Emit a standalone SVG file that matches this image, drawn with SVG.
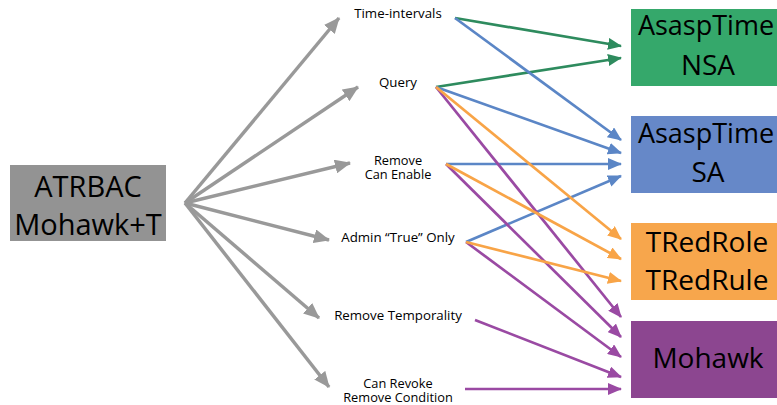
<svg xmlns="http://www.w3.org/2000/svg" width="777" height="405" viewBox="0 0 777 405">
<style>
.big{font-family:"Open Sans","Noto Sans",sans-serif;font-size:28px;fill:#000;text-anchor:middle}
.lbl{font-family:"Open Sans","Noto Sans",sans-serif;font-size:13.3px;fill:#000;text-anchor:middle}
.sm{font-size:12.8px}
.g{stroke:#999;stroke-width:3.5;fill:none}
.c{stroke-width:2.7;fill:none}
.cg{stroke:#2e8b5e}.cb{stroke:#5b86c6}.co{stroke:#f8a447}.cp{stroke:#9a4aa3}
</style>
<defs>
<marker id="ag" markerUnits="userSpaceOnUse" markerWidth="16" markerHeight="14" refX="15" refY="7" orient="auto"><path d="M0,0 L16,7 L0,14 z" fill="#999"/></marker>
<marker id="mg" markerUnits="userSpaceOnUse" markerWidth="14" markerHeight="12" refX="13" refY="6" orient="auto"><path d="M0,0 L14,6 L0,12 z" fill="#2e8b5e"/></marker>
<marker id="mb" markerUnits="userSpaceOnUse" markerWidth="14" markerHeight="12" refX="13" refY="6" orient="auto"><path d="M0,0 L14,6 L0,12 z" fill="#5b86c6"/></marker>
<marker id="mo" markerUnits="userSpaceOnUse" markerWidth="14" markerHeight="12" refX="13" refY="6" orient="auto"><path d="M0,0 L14,6 L0,12 z" fill="#f8a447"/></marker>
<marker id="mp" markerUnits="userSpaceOnUse" markerWidth="14" markerHeight="12" refX="13" refY="6" orient="auto"><path d="M0,0 L14,6 L0,12 z" fill="#9a4aa3"/></marker>
</defs>
<rect width="777" height="405" fill="#fff"/>

<g id="connectors">
<line class="g" x1="185" y1="203" x2="339" y2="18" marker-end="url(#ag)"/>
<line class="g" x1="185" y1="203" x2="358" y2="87" marker-end="url(#ag)"/>
<line class="g" x1="185" y1="203" x2="350" y2="163" marker-end="url(#ag)"/>
<line class="g" x1="185" y1="203" x2="329" y2="240" marker-end="url(#ag)"/>
<line class="g" x1="185" y1="203" x2="319" y2="318" marker-end="url(#ag)"/>
<line class="g" x1="185" y1="203" x2="329" y2="387" marker-end="url(#ag)"/>

<line class="c cg" x1="455" y1="18" x2="621" y2="46" marker-end="url(#mg)"/>
<line class="c cg" x1="436" y1="87" x2="621" y2="58" marker-end="url(#mg)"/>

<line class="c cb" x1="455" y1="18" x2="621" y2="140" marker-end="url(#mb)"/>
<line class="c cb" x1="436" y1="87" x2="621" y2="153" marker-end="url(#mb)"/>
<line class="c cb" x1="446" y1="164" x2="621" y2="164" marker-end="url(#mb)"/>
<line class="c cb" x1="466" y1="242" x2="621" y2="176" marker-end="url(#mb)"/>

<line class="c cp" x1="436" y1="87" x2="621" y2="317" marker-end="url(#mp)"/>
<line class="c cp" x1="446" y1="164" x2="621" y2="337" marker-end="url(#mp)"/>
<line class="c cp" x1="466" y1="242" x2="621" y2="357" marker-end="url(#mp)"/>
<line class="c cp" x1="475" y1="320" x2="621" y2="377" marker-end="url(#mp)"/>
<line class="c cp" x1="465" y1="389" x2="621" y2="389" marker-end="url(#mp)"/>

<line class="c co" x1="436" y1="87" x2="621" y2="239" marker-end="url(#mo)"/>
<line class="c co" x1="446" y1="164" x2="621" y2="259" marker-end="url(#mo)"/>
<line class="c co" x1="466" y1="242" x2="621" y2="281" marker-end="url(#mo)"/>
</g>

<g id="atrbac">
<rect x="10" y="165" width="156" height="76" fill="#939393"/>
<text class="big" x="88" y="197" style="font-size:29px">ATRBAC</text>
<text class="big" x="88" y="235" style="font-size:29px">Mohawk+T</text>
</g>

<g id="time-intervals"><text class="lbl" x="398" y="18">Time-intervals</text></g>
<g id="query"><text class="lbl" x="398" y="87">Query</text></g>
<g id="remove-can-enable"><text class="lbl sm" x="398" y="164.5">Remove</text><text class="lbl sm" x="398" y="178.5">Can Enable</text></g>
<g id="admin-true-only"><text class="lbl" x="398" y="242">Admin “True” Only</text></g>
<g id="remove-temporality"><text class="lbl" x="398" y="320">Remove Temporality</text></g>
<g id="can-revoke"><text class="lbl sm" x="398" y="387.5">Can Revoke</text><text class="lbl sm" x="398" y="401.5">Remove Condition</text></g>

<g id="asasp-nsa">
<rect x="631" y="9" width="154" height="77" fill="#35a86b"/>
<text class="big" x="706" y="35" style="font-size:27px">AsaspTime</text>
<text class="big" x="708" y="75">NSA</text>
</g>
<g id="asasp-sa">
<rect x="631" y="116" width="154" height="77" fill="#6688c8"/>
<text class="big" x="706" y="143" style="font-size:27px">AsaspTime</text>
<text class="big" x="708" y="182">SA</text>
</g>
<g id="tred">
<rect x="631" y="223" width="154" height="77" fill="#f7a64c"/>
<text class="big" x="707" y="252">TRedRole</text>
<text class="big" x="707" y="290">TRedRule</text>
</g>
<g id="mohawk">
<rect x="631" y="321" width="154" height="77" fill="#8c4690"/>
<text class="big" x="708" y="368">Mohawk</text>
</g>
</svg>
